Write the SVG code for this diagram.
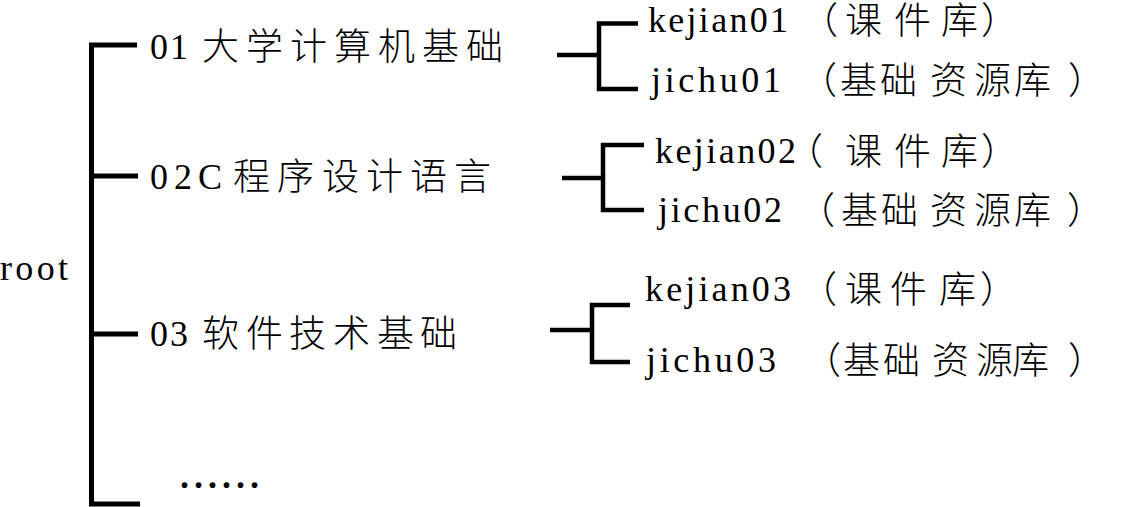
<svg xmlns="http://www.w3.org/2000/svg" width="1129" height="507" viewBox="0 0 1129 507">
<style>
  .t { font-family: "Liberation Serif", "Noto Sans CJK SC", serif; font-size: 36px; fill: #000; }
  .c { font-family: "Liberation Serif", "Noto Sans CJK SC", serif; font-size: 37px; font-weight: 300; fill: #000; }
  .ln { fill: none; stroke: #000; stroke-width: 5; stroke-linejoin: miter; stroke-linecap: butt; }
  .gl { fill: none; stroke: #000; stroke-width: 4.5; stroke-linejoin: miter; stroke-linecap: butt; }
</style>
<rect width="1129" height="507" fill="#fff"/>
<g id="connectors">
  <path class="ln" d="M137,45 H91.5 V504 H140"/>
  <path class="ln" d="M91.5,176 H138"/>
  <path class="ln" d="M91.5,334 H138"/>
  <path class="gl" d="M557,55 H599"/>
  <path class="gl" d="M638,23.5 H599 V89 H638"/>
  <path class="gl" d="M562,178 H603"/>
  <path class="gl" d="M644,145 H603 V210 H644"/>
  <path class="gl" d="M550,330 H592"/>
  <path class="gl" d="M630,305 H592 V362 H630"/>
</g>
<g id="root">
  <text class="t" x="0" y="280" textLength="68" lengthAdjust="spacing">root</text>
</g>
<g id="n01">
  <text class="t" x="150" y="59" textLength="38" lengthAdjust="spacing">01</text>
  <text class="c" x="202 246 290 334 378 422 466" y="60">大学计算机基础</text>
</g>
<g id="n02">
  <text class="t" x="150" y="189" textLength="72" lengthAdjust="spacing">02C</text>
  <text class="c" x="233 277 322 366 410 454" y="190">程序设计语言</text>
</g>
<g id="n03">
  <text class="t" x="150" y="346" textLength="38" lengthAdjust="spacing">03</text>
  <text class="c" x="202 246 289 333 377 420" y="347">软件技术基础</text>
</g>
<g id="more">
  <text class="t" x="180" y="488" letter-spacing="5" font-weight="bold">......</text>
</g>
<g id="kejian01">
  <text class="t" x="648" y="32" textLength="140" lengthAdjust="spacing">kejian01</text>
  <text class="c" x="801 845 894 941 981" y="34">（课件库）</text>
</g>
<g id="jichu01">
  <text class="t" x="651" y="92" textLength="130" lengthAdjust="spacing">jichu01</text>
  <text class="c" x="800 840 880 930 974 1014 1068" y="94">（基础资源库）</text>
</g>
<g id="kejian02">
  <text class="t" x="655" y="163" textLength="141" lengthAdjust="spacing">kejian02</text>
  <text class="c" x="786 845 894 941 981" y="165">（课件库）</text>
</g>
<g id="jichu02">
  <text class="t" x="658" y="222" textLength="124" lengthAdjust="spacing">jichu02</text>
  <text class="c" x="798 841 881 930 974 1014 1067" y="224">（基础资源库）</text>
</g>
<g id="kejian03">
  <text class="t" x="645" y="301" textLength="146" lengthAdjust="spacing">kejian03</text>
  <text class="c" x="800 845 890 939 980" y="303">（课件库）</text>
</g>
<g id="jichu03">
  <text class="t" x="646" y="372" textLength="130" lengthAdjust="spacing">jichu03</text>
  <text class="c" x="804 843 883 932 976 1012 1068" y="374">（基础资源库）</text>
</g>
</svg>
